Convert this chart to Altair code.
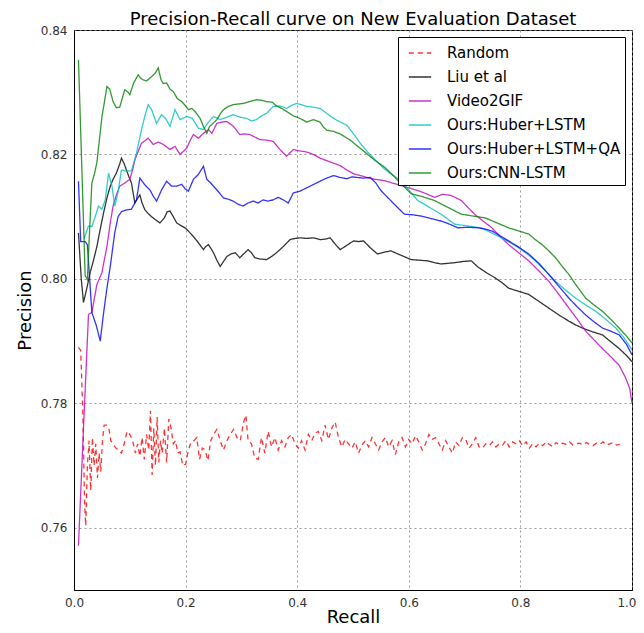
import altair as alt
import pandas as pd

SERIES = ["Random", "Liu et al", "Video2GIF", "Ours:Huber+LSTM", "Ours:Huber+LSTM+QA", "Ours:CNN-LSTM"]
COLORS = ["#ff0000", "#000000", "#bf00bf", "#00bfbf", "#0000ff", "#008000"]

random_r = [0.008, 0.012, 0.016, 0.019, 0.021, 0.024, 0.027, 0.030, 0.033, 0.036, 0.039, 0.042, 0.045, 0.048, 0.051, 0.054, 0.058, 0.062, 0.066, 0.070, 0.075, 0.080, 0.085, 0.090, 0.095, 0.100, 0.105, 0.110, 0.114, 0.118, 0.122, 0.126, 0.130, 0.134, 0.137, 0.140, 0.143, 0.146, 0.149, 0.152, 0.155, 0.158, 0.162, 0.166, 0.170, 0.174, 0.178, 0.182, 0.186, 0.190, 0.195, 0.200, 0.205, 0.210, 0.215, 0.220, 0.225, 0.230, 0.235, 0.240, 0.245, 0.250, 0.256, 0.262, 0.268, 0.274, 0.280, 0.286, 0.292, 0.298, 0.304, 0.308, 0.312, 0.318, 0.324, 0.330, 0.336, 0.342, 0.348, 0.354, 0.360, 0.366, 0.372, 0.378, 0.384, 0.390, 0.396, 0.402, 0.408, 0.414, 0.420, 0.426, 0.432, 0.438, 0.444, 0.450, 0.456, 0.462, 0.468, 0.474, 0.480, 0.486, 0.492, 0.498, 0.504, 0.510, 0.516, 0.522, 0.528, 0.534, 0.540, 0.546, 0.552, 0.558, 0.564, 0.570, 0.576, 0.582, 0.588, 0.594, 0.600, 0.606, 0.612, 0.618, 0.624, 0.630, 0.636, 0.642, 0.648, 0.654, 0.660, 0.666, 0.672, 0.678, 0.684, 0.690, 0.696, 0.702, 0.708, 0.714, 0.720, 0.726, 0.732, 0.738, 0.744, 0.750, 0.756, 0.762, 0.768, 0.774, 0.780, 0.786, 0.792, 0.798, 0.804, 0.810, 0.816, 0.822, 0.828, 0.834, 0.840, 0.846, 0.852, 0.858, 0.864, 0.870, 0.876, 0.882, 0.888, 0.894, 0.900, 0.906, 0.912, 0.918, 0.924, 0.930, 0.936, 0.942, 0.948, 0.954, 0.960, 0.966, 0.972, 0.978]
random_p = [0.7890, 0.7885, 0.7780, 0.7640, 0.7603, 0.7700, 0.7740, 0.7660, 0.7745, 0.7700, 0.7735, 0.7680, 0.7720, 0.7690, 0.7740, 0.7765, 0.7765, 0.7762, 0.7740, 0.7735, 0.7728, 0.7725, 0.7720, 0.7735, 0.7755, 0.7750, 0.7740, 0.7720, 0.7735, 0.7715, 0.7745, 0.7710, 0.7750, 0.7725, 0.7788, 0.7685, 0.7760, 0.7700, 0.7778, 0.7705, 0.7740, 0.7720, 0.7760, 0.7705, 0.7775, 0.7760, 0.7735, 0.7740, 0.7720, 0.7722, 0.7700, 0.7702, 0.7725, 0.7738, 0.7740, 0.7745, 0.7710, 0.7728, 0.7725, 0.7708, 0.7740, 0.7750, 0.7758, 0.7740, 0.7725, 0.7740, 0.7750, 0.7758, 0.7745, 0.7740, 0.7770, 0.7781, 0.7740, 0.7735, 0.7712, 0.7710, 0.7745, 0.7720, 0.7755, 0.7730, 0.7745, 0.7725, 0.7740, 0.7730, 0.7745, 0.7750, 0.7735, 0.7728, 0.7740, 0.7725, 0.7750, 0.7740, 0.7752, 0.7755, 0.7740, 0.7765, 0.7742, 0.7760, 0.7770, 0.7745, 0.7730, 0.7742, 0.7735, 0.7728, 0.7738, 0.7720, 0.7733, 0.7740, 0.7730, 0.7745, 0.7735, 0.7725, 0.7738, 0.7745, 0.7730, 0.7740, 0.7718, 0.7738, 0.7745, 0.7730, 0.7742, 0.7735, 0.7748, 0.7738, 0.7725, 0.7735, 0.7750, 0.7742, 0.7745, 0.7735, 0.7725, 0.7740, 0.7730, 0.7720, 0.7738, 0.7732, 0.7745, 0.7742, 0.7728, 0.7735, 0.7745, 0.7730, 0.7728, 0.7735, 0.7732, 0.7738, 0.7730, 0.7735, 0.7733, 0.7740, 0.7730, 0.7738, 0.7735, 0.7740, 0.7732, 0.7738, 0.7728, 0.7735, 0.7730, 0.7736, 0.7732, 0.7738, 0.7734, 0.7730, 0.7737, 0.7733, 0.7736, 0.7734, 0.7738, 0.7733, 0.7735, 0.7736, 0.7733, 0.7737, 0.7734, 0.7732, 0.7736, 0.7734, 0.7738, 0.7733, 0.7735, 0.7737, 0.7733, 0.7734]

liu_r = [0.008, 0.013, 0.017, 0.023, 0.029, 0.035, 0.041, 0.047, 0.053, 0.059, 0.065, 0.070, 0.076, 0.082, 0.085, 0.090, 0.094, 0.098, 0.103, 0.106, 0.109, 0.113, 0.118, 0.122, 0.127, 0.133, 0.139, 0.146, 0.154, 0.162, 0.167, 0.172, 0.178, 0.184, 0.191, 0.199, 0.206, 0.214, 0.223, 0.232, 0.236, 0.241, 0.246, 0.250, 0.256, 0.262, 0.268, 0.274, 0.281, 0.289, 0.297, 0.304, 0.312, 0.318, 0.324, 0.333, 0.345, 0.354, 0.363, 0.375, 0.387, 0.396, 0.405, 0.417, 0.429, 0.441, 0.450, 0.459, 0.468, 0.477, 0.489, 0.501, 0.510, 0.519, 0.531, 0.544, 0.556, 0.568, 0.586, 0.604, 0.619, 0.634, 0.646, 0.658, 0.670, 0.682, 0.697, 0.712, 0.724, 0.739, 0.754, 0.767, 0.779, 0.797, 0.815, 0.833, 0.851, 0.869, 0.887, 0.899, 0.911, 0.929, 0.947, 0.962, 0.977, 0.990, 1.000]
liu_p = [0.8074, 0.8000, 0.7962, 0.7985, 0.8010, 0.8030, 0.8052, 0.8080, 0.8106, 0.8130, 0.8149, 0.8160, 0.8170, 0.8185, 0.8194, 0.8185, 0.8175, 0.8165, 0.8154, 0.8138, 0.8122, 0.8128, 0.8135, 0.8122, 0.8111, 0.8105, 0.8100, 0.8095, 0.8090, 0.8098, 0.8108, 0.8109, 0.8100, 0.8090, 0.8086, 0.8082, 0.8076, 0.8068, 0.8058, 0.8047, 0.8052, 0.8055, 0.8048, 0.8042, 0.8030, 0.8020, 0.8028, 0.8036, 0.8040, 0.8042, 0.8034, 0.8040, 0.8047, 0.8042, 0.8034, 0.8032, 0.8031, 0.8036, 0.8042, 0.8052, 0.8063, 0.8065, 0.8066, 0.8065, 0.8066, 0.8063, 0.8064, 0.8066, 0.8056, 0.8047, 0.8054, 0.8061, 0.8060, 0.8061, 0.8050, 0.8040, 0.8043, 0.8045, 0.8038, 0.8031, 0.8030, 0.8029, 0.8026, 0.8024, 0.8025, 0.8026, 0.8028, 0.8029, 0.8019, 0.8010, 0.8002, 0.7994, 0.7985, 0.7980, 0.7975, 0.7964, 0.7953, 0.7942, 0.7932, 0.7926, 0.7921, 0.7915, 0.7910, 0.7899, 0.7888, 0.7877, 0.7867]

v2g_r = [0.008, 0.017, 0.026, 0.032, 0.041, 0.050, 0.059, 0.065, 0.070, 0.076, 0.082, 0.091, 0.100, 0.105, 0.109, 0.115, 0.121, 0.127, 0.133, 0.142, 0.151, 0.160, 0.172, 0.181, 0.190, 0.196, 0.202, 0.208, 0.214, 0.223, 0.232, 0.241, 0.247, 0.256, 0.265, 0.274, 0.286, 0.297, 0.306, 0.315, 0.324, 0.333, 0.345, 0.357, 0.369, 0.381, 0.393, 0.402, 0.411, 0.420, 0.429, 0.441, 0.453, 0.465, 0.477, 0.489, 0.501, 0.513, 0.525, 0.540, 0.556, 0.571, 0.586, 0.601, 0.616, 0.631, 0.646, 0.661, 0.676, 0.694, 0.706, 0.718, 0.733, 0.749, 0.764, 0.779, 0.797, 0.815, 0.833, 0.851, 0.869, 0.887, 0.902, 0.917, 0.932, 0.947, 0.962, 0.977, 0.988, 0.996, 1.000]
v2g_p = [0.7571, 0.7760, 0.7943, 0.7946, 0.7991, 0.8010, 0.8052, 0.8090, 0.8117, 0.8135, 0.8149, 0.8154, 0.8160, 0.8175, 0.8191, 0.8205, 0.8218, 0.8222, 0.8226, 0.8216, 0.8220, 0.8216, 0.8208, 0.8213, 0.8200, 0.8205, 0.8210, 0.8222, 0.8232, 0.8226, 0.8234, 0.8240, 0.8234, 0.8250, 0.8252, 0.8253, 0.8245, 0.8232, 0.8233, 0.8232, 0.8228, 0.8224, 0.8223, 0.8221, 0.8208, 0.8197, 0.8208, 0.8206, 0.8205, 0.8203, 0.8200, 0.8194, 0.8190, 0.8186, 0.8182, 0.8175, 0.8169, 0.8166, 0.8163, 0.8160, 0.8158, 0.8154, 0.8150, 0.8146, 0.8142, 0.8137, 0.8131, 0.8136, 0.8134, 0.8126, 0.8115, 0.8104, 0.8093, 0.8082, 0.8068, 0.8055, 0.8042, 0.8029, 0.8013, 0.7996, 0.7975, 0.7953, 0.7935, 0.7916, 0.7902, 0.7888, 0.7875, 0.7861, 0.7842, 0.7824, 0.7800]

hub_r = [0.018, 0.026, 0.032, 0.038, 0.044, 0.050, 0.056, 0.062, 0.068, 0.073, 0.079, 0.085, 0.094, 0.103, 0.112, 0.121, 0.128, 0.133, 0.139, 0.148, 0.157, 0.164, 0.172, 0.181, 0.190, 0.202, 0.212, 0.223, 0.232, 0.241, 0.250, 0.262, 0.274, 0.285, 0.297, 0.309, 0.318, 0.327, 0.336, 0.345, 0.357, 0.369, 0.381, 0.390, 0.399, 0.408, 0.417, 0.429, 0.441, 0.453, 0.462, 0.471, 0.480, 0.489, 0.501, 0.513, 0.526, 0.541, 0.556, 0.571, 0.586, 0.601, 0.616, 0.637, 0.658, 0.682, 0.706, 0.730, 0.748, 0.766, 0.782, 0.797, 0.812, 0.827, 0.845, 0.863, 0.881, 0.899, 0.917, 0.935, 0.953, 0.971, 0.986, 1.000]
hub_p = [0.8065, 0.8085, 0.8084, 0.8100, 0.8117, 0.8112, 0.8127, 0.8170, 0.8149, 0.8117, 0.8140, 0.8175, 0.8173, 0.8174, 0.8202, 0.8240, 0.8265, 0.8280, 0.8272, 0.8250, 0.8264, 0.8258, 0.8245, 0.8272, 0.8256, 0.8261, 0.8258, 0.8242, 0.8240, 0.8252, 0.8261, 0.8256, 0.8260, 0.8264, 0.8260, 0.8258, 0.8254, 0.8256, 0.8262, 0.8266, 0.8277, 0.8278, 0.8274, 0.8279, 0.8282, 0.8280, 0.8277, 0.8276, 0.8274, 0.8266, 0.8260, 0.8255, 0.8251, 0.8247, 0.8233, 0.8218, 0.8204, 0.8190, 0.8177, 0.8167, 0.8158, 0.8142, 0.8126, 0.8115, 0.8104, 0.8088, 0.8085, 0.8082, 0.8074, 0.8066, 0.8058, 0.8050, 0.8040, 0.8029, 0.8013, 0.7996, 0.7982, 0.7969, 0.7958, 0.7948, 0.7935, 0.7921, 0.7905, 0.7886]

qa_r = [0.008, 0.012, 0.020, 0.024, 0.032, 0.040, 0.047, 0.053, 0.059, 0.065, 0.073, 0.079, 0.085, 0.094, 0.103, 0.112, 0.118, 0.127, 0.136, 0.142, 0.148, 0.157, 0.166, 0.175, 0.184, 0.193, 0.199, 0.205, 0.214, 0.223, 0.232, 0.238, 0.244, 0.250, 0.259, 0.268, 0.277, 0.285, 0.294, 0.303, 0.312, 0.321, 0.330, 0.339, 0.348, 0.357, 0.366, 0.375, 0.384, 0.393, 0.405, 0.414, 0.423, 0.432, 0.441, 0.453, 0.465, 0.477, 0.489, 0.498, 0.507, 0.519, 0.531, 0.541, 0.550, 0.562, 0.574, 0.583, 0.592, 0.607, 0.622, 0.640, 0.658, 0.673, 0.688, 0.706, 0.724, 0.737, 0.749, 0.764, 0.779, 0.797, 0.815, 0.833, 0.851, 0.869, 0.887, 0.902, 0.917, 0.932, 0.947, 0.962, 0.977, 0.990, 1.000]
qa_p = [0.8157, 0.8060, 0.8060, 0.8055, 0.7946, 0.7925, 0.7900, 0.7945, 0.7985, 0.8020, 0.8074, 0.8100, 0.8108, 0.8111, 0.8112, 0.8127, 0.8162, 0.8151, 0.8143, 0.8133, 0.8125, 0.8143, 0.8157, 0.8149, 0.8149, 0.8152, 0.8145, 0.8141, 0.8160, 0.8168, 0.8181, 0.8160, 0.8155, 0.8149, 0.8140, 0.8130, 0.8128, 0.8125, 0.8120, 0.8117, 0.8122, 0.8125, 0.8122, 0.8127, 0.8125, 0.8127, 0.8131, 0.8127, 0.8122, 0.8138, 0.8141, 0.8145, 0.8149, 0.8153, 0.8157, 0.8162, 0.8166, 0.8163, 0.8161, 0.8164, 0.8163, 0.8162, 0.8163, 0.8154, 0.8142, 0.8131, 0.8120, 0.8112, 0.8104, 0.8103, 0.8101, 0.8097, 0.8093, 0.8088, 0.8082, 0.8083, 0.8082, 0.8080, 0.8077, 0.8069, 0.8061, 0.8051, 0.8040, 0.8025, 0.8007, 0.7988, 0.7969, 0.7955, 0.7942, 0.7931, 0.7921, 0.7916, 0.7910, 0.7895, 0.7878]

cnn_r = [0.008, 0.020, 0.024, 0.027, 0.032, 0.037, 0.041, 0.050, 0.059, 0.064, 0.070, 0.076, 0.082, 0.088, 0.091, 0.097, 0.100, 0.107, 0.115, 0.120, 0.124, 0.130, 0.139, 0.145, 0.151, 0.156, 0.160, 0.166, 0.172, 0.178, 0.185, 0.193, 0.200, 0.205, 0.211, 0.217, 0.226, 0.232, 0.238, 0.243, 0.247, 0.256, 0.262, 0.268, 0.276, 0.285, 0.294, 0.303, 0.315, 0.327, 0.336, 0.345, 0.355, 0.363, 0.372, 0.381, 0.393, 0.405, 0.417, 0.429, 0.441, 0.447, 0.453, 0.465, 0.477, 0.486, 0.495, 0.510, 0.525, 0.540, 0.556, 0.571, 0.586, 0.595, 0.604, 0.625, 0.646, 0.670, 0.694, 0.715, 0.737, 0.758, 0.779, 0.797, 0.815, 0.827, 0.839, 0.851, 0.863, 0.875, 0.887, 0.899, 0.908, 0.917, 0.932, 0.947, 0.962, 0.977, 0.990, 1.000]
cnn_p = [0.8352, 0.8005, 0.7999, 0.8060, 0.8154, 0.8170, 0.8187, 0.8260, 0.8309, 0.8305, 0.8285, 0.8275, 0.8276, 0.8295, 0.8304, 0.8300, 0.8296, 0.8315, 0.8328, 0.8322, 0.8320, 0.8318, 0.8325, 0.8330, 0.8339, 0.8320, 0.8314, 0.8315, 0.8305, 0.8301, 0.8290, 0.8285, 0.8278, 0.8272, 0.8274, 0.8269, 0.8258, 0.8245, 0.8234, 0.8245, 0.8248, 0.8256, 0.8265, 0.8272, 0.8277, 0.8280, 0.8281, 0.8282, 0.8285, 0.8288, 0.8287, 0.8285, 0.8284, 0.8278, 0.8274, 0.8269, 0.8262, 0.8258, 0.8252, 0.8256, 0.8252, 0.8244, 0.8239, 0.8237, 0.8233, 0.8228, 0.8223, 0.8212, 0.8201, 0.8190, 0.8180, 0.8167, 0.8153, 0.8145, 0.8137, 0.8132, 0.8126, 0.8115, 0.8104, 0.8101, 0.8098, 0.8090, 0.8082, 0.8077, 0.8072, 0.8063, 0.8055, 0.8045, 0.8034, 0.8020, 0.8007, 0.7991, 0.7980, 0.7969, 0.7958, 0.7948, 0.7935, 0.7921, 0.7908, 0.7897]

X_TICKS = [0.0, 0.2, 0.4, 0.6, 0.8, 1.0]
Y_TICKS = [0.76, 0.78, 0.80, 0.82, 0.84]

rows = []
for name, rr, pp in [
    ("Random", random_r, random_p),
    ("Liu et al", liu_r, liu_p),
    ("Video2GIF", v2g_r, v2g_p),
    ("Ours:Huber+LSTM", hub_r, hub_p),
    ("Ours:Huber+LSTM+QA", qa_r, qa_p),
    ("Ours:CNN-LSTM", cnn_r, cnn_p),
]:
    for i, (r, p) in enumerate(zip(rr, pp)):
        rows.append({"series": name, "recall": r, "precision": p, "idx": i})
df = pd.DataFrame(rows)

FONT = "DejaVu Sans"

chart = (
    alt.Chart(df)
    .mark_line(strokeWidth=1.3, opacity=0.8, clip=True)
    .encode(
        x=alt.X(
            "recall:Q",
            scale=alt.Scale(domain=[0, 1], nice=False),
            axis=alt.Axis(
                values=X_TICKS,
                format=".1f",
                title="Recall",
                labelFlush=False,
                labelAlign=alt.expr("datum.value >= 1 ? 'right' : 'center'"),
                labelOffset=alt.expr("datum.value >= 1 ? 4 : 0"),
            ),
        ),
        y=alt.Y(
            "precision:Q",
            scale=alt.Scale(domain=[0.75, 0.84], nice=False, zero=False),
            axis=alt.Axis(values=Y_TICKS, format=".2f", title="Precision", labelFlush=False),
        ),
        color=alt.Color(
            "series:N",
            sort=SERIES,
            scale=alt.Scale(domain=SERIES, range=COLORS),
            title=None,
            legend=alt.Legend(
                orient="none",
                legendX=324,
                legendY=7,
                strokeColor="black",
                fillColor="white",
                padding=4,
                cornerRadius=0,
                symbolType="stroke",
                symbolSize=500,
                symbolStrokeWidth=1.5,
                labelFontSize=15,
                labelFont=FONT,
                labelColor="black",
                rowPadding=4,
                labelOffset=15,
                symbolOffset=6,
                labelLimit=300,
            ),
        ),
        strokeDash=alt.StrokeDash(
            "series:N",
            sort=SERIES,
            scale=alt.Scale(domain=SERIES, range=[[5, 4], [1, 0], [1, 0], [1, 0], [1, 0], [1, 0]]),
            title=None,
        ),
        order="idx:Q",
    )
    .properties(
        width=558,
        height=560,
        title=alt.TitleParams(
            "Precision-Recall curve on New Evaluation Dataset",
            fontSize=18,
            font=FONT,
            fontWeight="normal",
            color="black",
            anchor="middle",
            offset=-5,
        ),
        autosize=alt.AutoSizeParams(type="none"),
        padding={"left": 66, "top": 22, "right": 4, "bottom": 35},
    )
    .configure_view(stroke="black", strokeWidth=1)
    .configure_axis(
        grid=True,
        gridColor="#808080",
        gridDash=[2, 3],
        gridWidth=0.8,
        domainColor="black",
        tickSize=0,
        labelFont=FONT,
        labelFontSize=12,
        labelColor="#333333",
        labelPadding=7,
        titleFont=FONT,
        titleFontSize=18,
        titleFontWeight="normal",
        titleColor="black",
    )
    .configure_axisY(titlePadding=6)
    .configure_axisX(titlePadding=0)
)

chart.save("out.html", embed_options={"renderer": "svg", "actions": False})
